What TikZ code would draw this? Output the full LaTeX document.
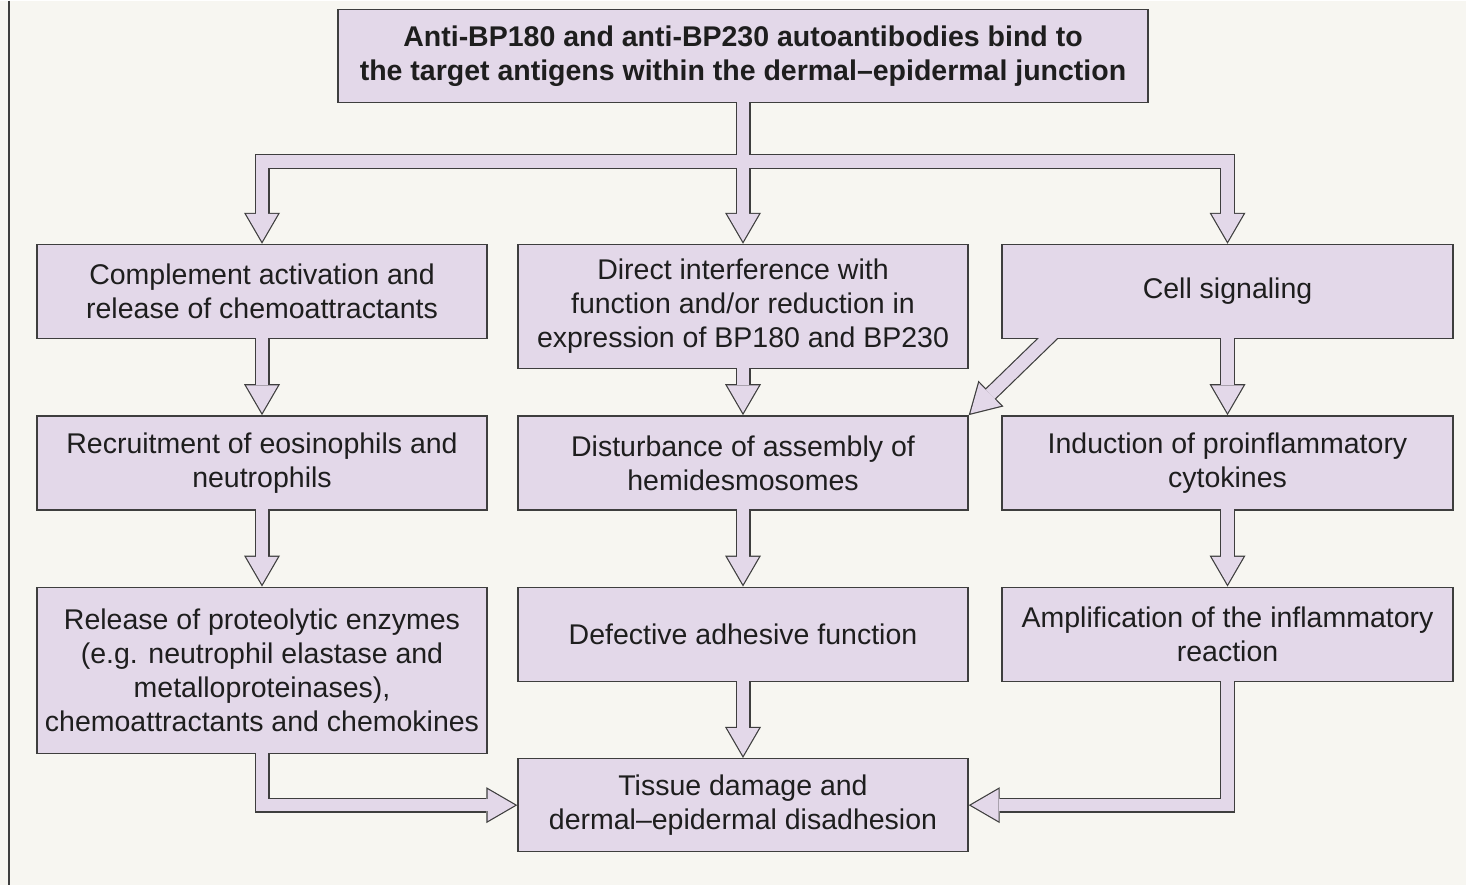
\documentclass[tikz,border=0pt]{standalone}
\usepackage{fontspec}
\setmainfont{Liberation Sans}
\usetikzlibrary{arrows.meta, positioning}
\definecolor{pagebg}{RGB}{247,246,241}
\definecolor{lav}{RGB}{227,216,233}
\definecolor{edge}{RGB}{62,62,62}
\definecolor{ink}{RGB}{30,30,30}

\begin{document}
\begin{tikzpicture}[
  x=1pt, y=-1pt,
  blk/.style={rectangle, draw=edge, fill=lav, line width=1.4pt, text=ink,
              align=center, inner sep=2pt, minimum width=450pt, minimum height=94pt,
              font=\fontsize{28.5}{34}\selectfont},
  hout/.style={draw=edge, line width=15pt,
               -{Triangle[length=31pt, width=36pt, line width=0pt]}},
  hin/.style={draw=lav, line width=12.6pt, shorten <=-1.4pt, shorten >=2.4pt,
              -{Triangle[length=27.4pt, width=31.8pt, line width=0pt]}}
]
\fill[pagebg] (0,0) rectangle (1466,884);
\draw[edge, line width=1.5pt] (9,0) -- (9,884);
\useasboundingbox (0,0) rectangle (1466,884);

\node[blk, anchor=north, minimum width=810pt, minimum height=93pt,
      font=\fontsize{28.5}{34}\selectfont\bfseries] (top) at (743,8)
  {Anti-BP180 and anti-BP230 autoantibodies bind to\\the target antigens within the dermal--epidermal junction};
\node[blk, anchor=north] (cmp) at (262,243) {Complement activation and\\release of chemoattractants};
\node[blk, anchor=north, minimum height=124pt] (dir) at (743,243) {Direct interference with\\function and/or reduction in\\expression of BP180 and BP230};
\node[blk, anchor=north, minimum width=451pt] (sig) at (1227.5,243) {Cell signaling};
\node[blk, below=76pt of cmp] (rec) {Recruitment of eosinophils and\\neutrophils};
\node[blk, below=46pt of dir] (dis) {Disturbance of assembly of\\hemidesmosomes};
\node[blk, minimum width=451pt, below=76pt of sig] (ind) {Induction of proinflammatory\\cytokines};
\node[blk, minimum height=166pt, below=76pt of rec] (rel) {Release of proteolytic enzymes\\(e.g. neutrophil elastase and\\metalloproteinases),\\chemoattractants and chemokines};
\node[blk, below=76pt of dis] (dfc) {Defective adhesive function};
\node[blk, minimum width=451pt, below=76pt of ind] (amp) {Amplification of the inflammatory\\reaction};
\node[blk, minimum height=93pt, below=76pt of dfc] (fin) {Tissue damage and\\dermal--epidermal disadhesion};

\coordinate (split) at ([yshift=-58.5pt]top.south);
% hollow arrows: outlines first, then the filling
\foreach \lay in {hout, hin} {
  \draw[\lay] (top.south) -- (split) -| (cmp.north);
  \draw[\lay] (top.south) -- (dir.north);
  \draw[\lay] (top.south) -- (split) -| (sig.north);
  \foreach \a/\b in {cmp/rec, rec/rel, dir/dis, dis/dfc, dfc/fin, sig/ind, ind/amp}
    \draw[\lay] (\a.south) -- (\b.north);
  \draw[\lay] (rel.south) |- (fin.west);
  \draw[\lay] (amp.south) |- (fin.east);
}
% cell signaling -> hemidesmosomes
\begin{scope}
  \clip ([xshift=-30pt,yshift=-20pt]dis.north east) rectangle ([xshift=80pt]sig.south west);
  \draw[hout] ([xshift=57pt,yshift=11pt]sig.south west) -- (dis.north east);
\end{scope}
\begin{scope}
  \clip ([xshift=-30pt,yshift=-20pt]dis.north east) rectangle ([xshift=80pt,yshift=1.4pt]sig.south west);
  \draw[hin] ([xshift=57pt,yshift=11pt]sig.south west) -- (dis.north east);
\end{scope}
\end{tikzpicture}
\end{document}
